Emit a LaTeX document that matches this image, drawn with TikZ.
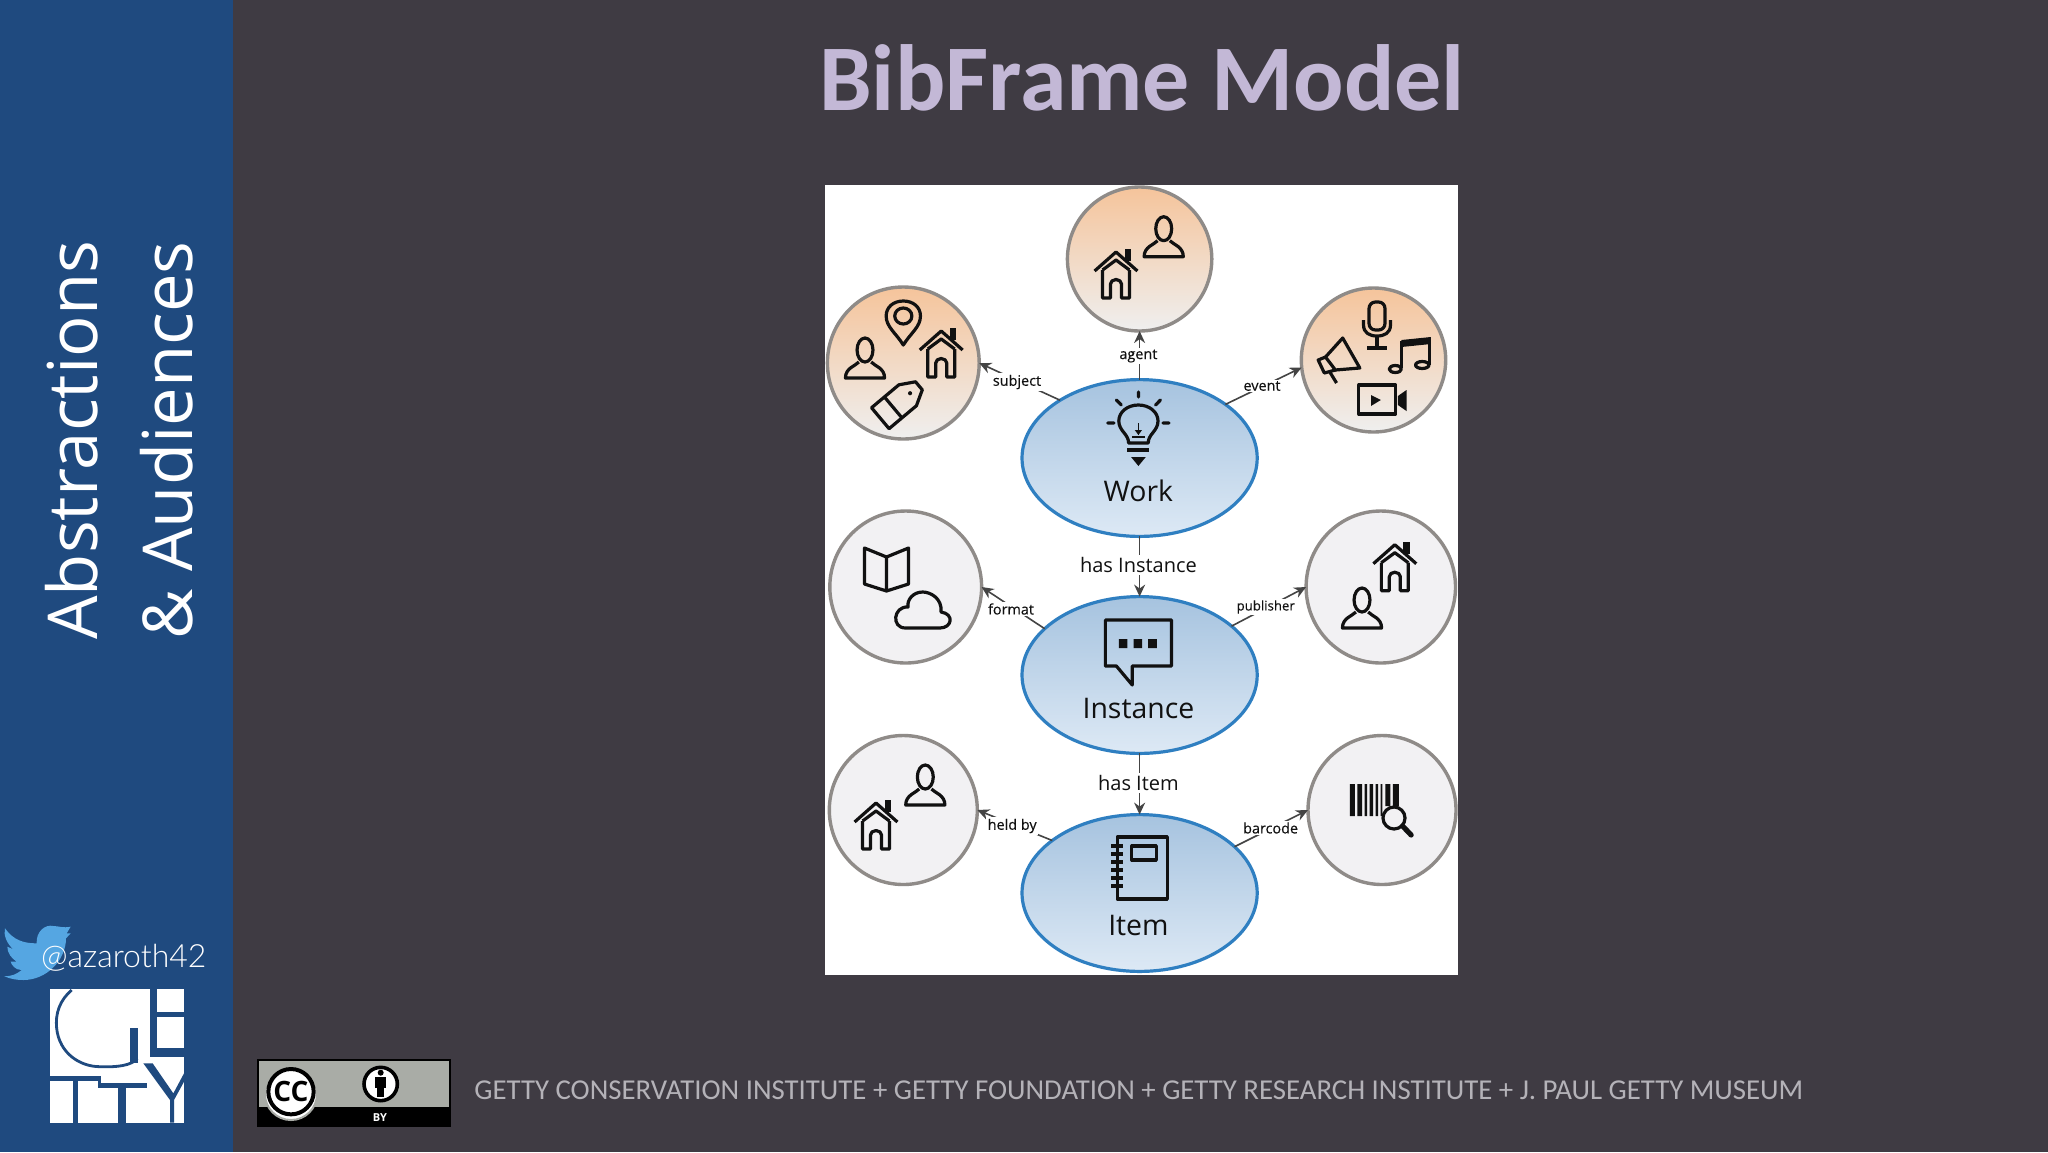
\documentclass[tikz,border=0pt]{standalone}
\usepackage{fontspec}
\setmainfont{Open Sans}
\newfontfamily\carl{Carlito}
\newfontfamily\lightf{Lato Light}
\newfontfamily\semif[FakeBold=0.3]{Open Sans}
\usetikzlibrary{arrows.meta,shapes.geometric}
\definecolor{slidebg}{HTML}{3F3B43}
\definecolor{sidebar}{HTML}{1F4A7F}
\definecolor{titlecol}{HTML}{C3B8D6}
\definecolor{footcol}{HTML}{B4B2B8}
\definecolor{blueline}{HTML}{2F7FC1}
\definecolor{greyline}{HTML}{8F8B88}
\definecolor{bluetop}{HTML}{A6C3DF}
\definecolor{bluebot}{HTML}{DDE9F5}
\definecolor{orangetop}{HTML}{F5C49B}
\definecolor{orangebot}{HTML}{EFEFEF}
\definecolor{greyfill}{HTML}{F2F1F3}
\definecolor{ink}{HTML}{111111}
\definecolor{conn}{HTML}{444444}
\definecolor{birdcol}{HTML}{55A6E2}
\definecolor{ccgrey}{HTML}{A9ACA6}
\tikzset{
  mainoval/.style={ellipse,draw=blueline,line width=1.6pt,top color=bluetop,bottom color=bluebot,minimum width=117.6pt,minimum height=78.4pt,inner sep=0pt,outer sep=0pt},
  orangeoval/.style={ellipse,draw=greyline,line width=1.7pt,top color=orangetop,bottom color=orangebot,inner sep=0pt,outer sep=0pt},
  greyoval/.style={ellipse,draw=greyline,line width=1.7pt,fill=greyfill,inner sep=0pt,outer sep=0pt},
  link/.style={draw=conn,line width=.8pt,-{Stealth[length=6pt,width=5.5pt]}},
  smalllab/.style={fill=white,inner sep=.8pt,text=ink,font=\semif\fontsize{7.2}{8}\selectfont},
  midlab/.style={fill=white,inner sep=1pt,text=ink,font=\fontsize{10}{11}\selectfont},
  bigs/.style={text=ink,inner sep=0pt,font=\fontsize{14.2}{15}\selectfont},
  ico/.style={draw=ink,line width=1.6pt,line join=round},
  icof/.style={fill=ink},
  logoblue/.style={fill=sidebar},
  iperson/.pic={
    \begin{scope}[xscale=1.2245]
    \draw[ico] (0,-8) ellipse (6.5 and 12);
    \draw[ico] (-5,4) .. controls (-8,8) and (-16,10) .. (-16,20) -- (16,20) .. controls (16,10) and (8,8) .. (5,4);
    \end{scope}
  },
  ihouse/.pic={
    \begin{scope}[xscale=1.2245]
    \fill[icof] (7,-25) rectangle (12,-13);
    \draw[ico] (-17.5,-3) -- (0,-22) -- (17.5,-3);
    \draw[ico] (-11,-4) -- (0,-14) -- (11,-4);
    \draw[ico] (-11,-4) -- (-11,24) -- (-4.5,24) -- (-4.5,10) arc (180:360:4.5) -- (4.5,24) -- (11,24) -- (11,-4);
    \end{scope}
  },
  ipin/.pic={
    \begin{scope}[xscale=1.2245]
    \draw[ico] (0,22) .. controls (-6,10) and (-14,4) .. (-14,-7) .. controls (-14,-16) and (-8,-22) .. (0,-22) .. controls (8,-22) and (14,-16) .. (14,-7) .. controls (14,4) and (6,10) .. (0,22) -- cycle;
    \draw[ico] (0,-7) ellipse (7 and 8);
    \end{scope}
  },
  itag/.pic={
    \begin{scope}[scale=1.05]
    \draw[ico] (-24,-13) -- (10,-13) -- (24,-5) -- (24,5) -- (10,13) -- (-24,13) -- cycle;
    \draw[ico] (-8,-13) -- (-8,13);
    \fill[icof] (13,0) circle (2);
    \end{scope}
  },
  imic/.pic={
    \begin{scope}[xscale=1.2245]
    \draw[ico,rounded corners=3.2pt] (-6.5,-23) rectangle (6.5,5);
    \draw[ico] (-11,-5) -- (-11,0) .. controls (-11,8) and (-6,11) .. (0,11) .. controls (6,11) and (11,8) .. (11,0) -- (11,-5);
    \draw[ico] (0,11) -- (0,23) (-8,23) -- (8,23);
    \end{scope}
  },
  imega/.pic={
    \begin{scope}[xscale=1.2245]
    \draw[ico] (3,-22) -- (17,8) -- (-3,10) -- (-11,-3) -- cycle;
    \draw[ico] (-11,-3) -- (-17,0) -- (-12,13) -- (-3,10);
    \draw[ico] (-8,11) -- (-2,23);
    \end{scope}
  },
  inotes/.pic={
    \begin{scope}[xscale=1.2245]
    \fill[icof] (-7,-15) -- (17,-18) -- (17,-11) -- (-7,-8) -- cycle;
    \draw[ico] (-7,-14) -- (-7,13) (16,-17) -- (16,10);
    \draw[ico] (-12,14) ellipse (5 and 3.5) (10,10) ellipse (5.5 and 3.5);
    \end{scope}
  },
  ivideo/.pic={
    \begin{scope}[xscale=1.2245]
    \draw[ico] (-19,-15) rectangle (11,14);
    \fill[icof] (-9,-5) -- (-1,0) -- (-9,6) -- cycle;
    \fill[icof] (13,-4) -- (20,-10) -- (20,11) -- (13,5) -- cycle;
    \end{scope}
  },
  ibulb/.pic={
    \begin{scope}[xscale=1.2245]
    \draw[ico] (-8,14) .. controls (-8,5) and (-16,2) .. (-16,-8) .. controls (-16,-17) and (-9,-24) .. (0,-24) .. controls (9,-24) and (16,-17) .. (16,-8) .. controls (16,2) and (8,5) .. (8,14) -- cycle;
    \draw[ico,line cap=round] (0,-37) -- (0,-32) (-18,-29) -- (-14,-24) (18,-29) -- (14,-24) (-25,-6) -- (-20,-6) (25,-6) -- (20,-6);
    \draw[ico,line width=.8pt] (0,-6) -- (0,6) (-5,8) -- (5,8);
    \fill[icof] (-3,1) -- (3,1) -- (0,6) -- cycle;
    \draw[ico] (-9,21) -- (9,21);
    \fill[icof] (-6,28) -- (6,28) -- (0,37) -- cycle;
    \end{scope}
  },
  ispeech/.pic={
    \begin{scope}[xscale=1.2245]
    \draw[ico] (-27,-33) -- (27,-33) -- (27,13) -- (-5,13) -- (-5,32) -- (-18,13) -- (-27,13) -- cycle;
    \fill[icof] (-16,-14) rectangle (-9,-5) (-4,-14) rectangle (3,-5) (8,-14) rectangle (15,-5);
    \end{scope}
  },
  inotebook/.pic={
    \begin{scope}[xscale=1.2245]
    \draw[ico] (-19,-31) rectangle (22,31);
    \draw[ico] (-7,-22) rectangle (13,-8);
    \draw[ico] (-24,-22) -- (-14,-22) (-24,-14) -- (-14,-14) (-24,-6) -- (-14,-6) (-24,2) -- (-14,2) (-24,10) -- (-14,10) (-24,18) -- (-14,18);
    \end{scope}
  },
  ibook/.pic={
    \begin{scope}[xscale=1.2245]
    \draw[ico] (0,-12) -- (-18,-21) -- (-18,15) -- (0,22) -- (18,15) -- (18,-21) -- cycle (0,-12) -- (0,22);
    \end{scope}
  },
  icloud/.pic={
    \begin{scope}[xscale=1.2245]
    \draw[ico] (-14,18) -- (14,18) .. controls (24,18) and (26,4) .. (15,2) .. controls (16,-12) and (6,-18) .. (0,-18) .. controls (-8,-18) and (-13,-10) .. (-12,-3) .. controls (-24,-4) and (-26,18) .. (-14,18) -- cycle;
    \end{scope}
  },
  ibarcode/.pic={
    \begin{scope}[xscale=1.2245]
    \fill[icof] (-20,-16) rectangle (-16,16) (-14,-16) rectangle (-10,16) (-8,-16) rectangle (-6,16) (-4,-16) rectangle (-1,16) (1,-16) rectangle (3,16) (5,-16) rectangle (6.5,16) (9,-16) rectangle (13,6) (15,-16) rectangle (20,6);
    \draw[ico,fill=greyfill] (16,18) ellipse (9 and 11);
    \draw[ico,line width=2.6pt,line cap=round] (23,26) -- (30,35);
    \end{scope}
  }
}
\begin{document}
\begin{tikzpicture}[x=.5pt,y=-.5pt]
\useasboundingbox (0,0) rectangle (2048,1152);
\fill[slidebg] (0,0) rectangle (2048,1152);
\fill[sidebar] (0,0) rectangle (233,1152);
\fill[white] (825,185) rectangle (1458,975);

% title and sidebar
\node[text=titlecol,inner sep=0pt,font=\carl\bfseries\fontsize{47}{50}\selectfont] (title) at (1142,78) {BibFrame Model};
\node[rotate=90,anchor=base west,text=white,inner sep=0pt,font=\fontsize{34.4}{38}\selectfont] (abs) at (97,640) {Abstractions};
\node[rotate=90,anchor=base west,text=white,inner sep=0pt,font=\fontsize{34.4}{38}\selectfont] (aud) at (192,640) {\& Audiences};

% ovals
\node[mainoval] (work) at (1139.6,458) {};
\node[mainoval] (instance) at (1139.6,675) {};
\node[mainoval] (item) at (1139.6,893) {};
\node[orangeoval,minimum width=72.2pt,minimum height=72pt] (agent) at (1139.6,259) {};
\node[orangeoval,minimum width=75.9pt,minimum height=76pt] (subject) at (903.3,363) {};
\node[orangeoval,minimum width=72.2pt,minimum height=72pt] (event) at (1373.5,360) {};
\node[greyoval,minimum width=75.9pt,minimum height=76pt] (format) at (905.7,587) {};
\node[greyoval,minimum width=74.7pt,minimum height=76pt] (publisher) at (1380.8,587) {};
\node[greyoval,minimum width=74pt,minimum height=74.5pt] (heldby) at (903.3,810) {};
\node[greyoval,minimum width=74pt,minimum height=74.5pt] (barcode) at (1382,810) {};

% connectors
\draw[link] (work.north) -- (agent.south);
\draw[link] (work.144.7) -- (subject.0);
\draw[link] (work.32.4) -- (event.186.6);
\draw[link] (work.south) -- (instance.north);
\draw[link] (instance.154.2) -- (format.0);
\draw[link] (instance.28.8) -- (publisher.180);
\draw[link] (instance.south) -- (item.north);
\draw[link] (item.149.9) -- (heldby.0);
\draw[link] (item.26.5) -- (barcode.180);

% connector labels
\node[smalllab] (lagent) at (1138.4,356) {agent};
\node[smalllab] (lsubject) at (1017,382) {subject};
\node[smalllab] (levent) at (1262,386) {event};
\node[midlab] (lhasinst) at (1138.4,565) {has Instance};
\node[smalllab] (lformat) at (1011,609) {format};
\node[smalllab,font=\semif\fontsize{6.6}{8}\selectfont] (lpub) at (1265.7,607) {publisher};
\node[midlab] (lhasitem) at (1138.4,783) {has Item};
\node[smalllab] (lheld) at (1012.2,826) {held by};
\node[smalllab] (lbar) at (1270.6,828) {barcode};

% oval titles
\node[bigs] (twork) at (1138.4,491) {Work};
\node[bigs] (tinst) at (1138.4,708) {Instance};
\node[bigs] (titem) at (1138.4,925) {Item};

% icons
\pic at (1163.7,236.7) {iperson};
\pic at (1116,274) {ihouse};
\pic at (903.3,323) {ipin};
\pic at (865,358) {iperson};
\pic at (941.2,353) {ihouse};
\pic[rotate=40] at (899.6,402) {itag};
\pic at (1377,325) {imic};
\pic at (1339,360) {imega};
\pic at (1410,355) {inotes};
\pic at (1382,400) {ivideo};
\pic at (1138.4,429) {ibulb};
\pic at (886.5,569) {ibook};
\pic at (922.7,610) {icloud};
\pic at (1394.8,566.7) {ihouse};
\pic at (1362,608) {iperson};
\pic at (1138.4,653) {ispeech};
\pic at (925.3,785) {iperson};
\pic at (876,825) {ihouse};
\pic at (1374.4,800) {ibarcode};
\pic at (1140.4,868) {inotebook};

% bird, handle, logo, licence: drawn in the 3x crop's coordinates
\begin{scope}[x=.16667pt,y=-.16667pt,yshift=-450pt]
\fill[birdcol] (15,85) .. controls (40,120) and (70,130) .. (110,130)
  .. controls (108,95) and (135,72) .. (160,78)
  .. controls (175,78) and (190,85) .. (212,80) -- (200,100) -- (212,100)
  .. controls (205,110) .. (198,115)
  .. controls (198,180) and (140,240) .. (70,240)
  .. controls (50,240) and (30,237) .. (12,228)
  .. controls (35,230) and (50,222) .. (65,210)
  .. controls (45,210) and (35,195) .. (32,185)
  -- (50,185) .. controls (35,175) and (22,160) .. (22,140)
  -- (40,148) .. controls (20,130) and (10,105) .. (15,85) -- cycle;
\node[anchor=west,text=white,inner sep=0pt,font=\lightf\fontsize{16}{17}\selectfont] (handle) at (122,172) {@azaroth42};
% logo
\fill[white] (150,268) rectangle (552,668);
\draw[sidebar,line width=1.4pt] (215,270) .. controls (180,300) and (165,340) .. (170,385) .. controls (178,460) and (240,500) .. (300,500) .. controls (350,502) and (395,497) .. (412,475);
\fill[logoblue] (390,385) rectangle (415,490);
\fill[logoblue] (450,268) rectangle (472,470);
\fill[logoblue] (472,335) rectangle (552,350);
\fill[logoblue] (472,445) rectangle (552,470);
\fill[logoblue] (150,528) rectangle (300,542);
\fill[logoblue] (218,542) rectangle (235,668);
\fill[logoblue] (295,528) rectangle (302,565);
\fill[logoblue] (300,548) rectangle (442,565);
\fill[logoblue] (355,565) rectangle (378,668);
\fill[logoblue] (430,490) -- (458,490) -- (520,580) -- (552,520) -- (552,545) -- (522,600) -- (522,668) -- (510,668) -- (510,600) -- cycle;
% licence badge
\fill[black] (772,478) rectangle (1352,680);
\fill[ccgrey] (778,484) rectangle (1348,620);
\draw[ccgrey,line width=1pt,fill=white] (873,582) circle (78);
\draw[black,line width=2pt,fill=white] (873,575) circle (68);
\node[inner sep=0pt,font=\bfseries\fontsize{14}{14}\selectfont] (cc) at (873,575) {CC};
\draw[black,line width=1.8pt,fill=white] (1142,552) circle (50);
\fill[black] (1142,518) circle (9);
\fill[black] (1125,532) rectangle (1159,565);
\fill[black] (1131,565) rectangle (1153,590);
\node[text=white,inner sep=0pt,font=\bfseries\fontsize{5.5}{6}\selectfont] (by) at (1140,652) {BY};
\end{scope}
\node[anchor=west,text=footcol,inner sep=0pt,font=\carl\fontsize{14.4}{16}\selectfont] (foot) at (474,1090) {GETTY CONSERVATION INSTITUTE + GETTY FOUNDATION + GETTY RESEARCH INSTITUTE + J. PAUL GETTY MUSEUM};
\end{tikzpicture}
\end{document}
